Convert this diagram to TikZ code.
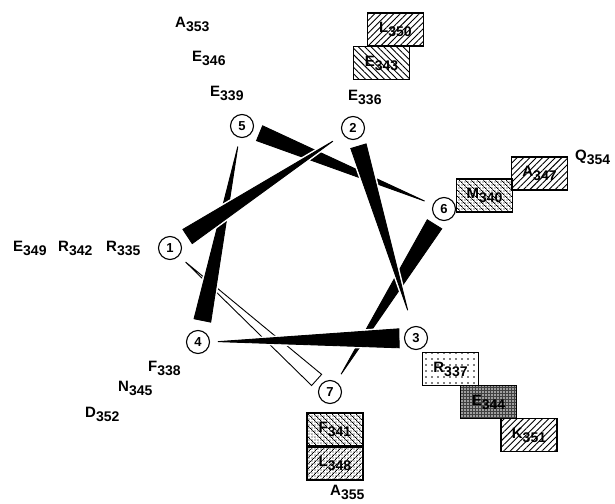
\documentclass[tikz,border=0pt]{standalone}
\usepackage{fontspec}
\setmainfont{Liberation Sans}
\usetikzlibrary{calc,positioning,patterns.meta}

\newcommand{\res}[2]{#1\raisebox{-4pt}{\fontsize{14}{14}\selectfont #2}}

\tikzset{
	lbl/.style={inner sep=0pt, anchor=base west, font=\bfseries\fontsize{15}{15}\selectfont},
	num/.style={circle, draw, fill=white, line width=1.1pt, minimum size=23pt, inner sep=0pt, font=\bfseries\fontsize{13}{13}\selectfont},
	resbox/.style={draw, line width=1.1pt, minimum width=56pt, minimum height=33pt, inner sep=0pt, font=\bfseries\fontsize{15}{15}\selectfont},
	hatchne/.style={pattern={Lines[angle=45,distance=4.5pt,line width=0.9pt]}},
	hatchnw/.style={pattern={Lines[angle=-45,distance=4.5pt,line width=0.9pt]}},
	sparsedots/.style={pattern={Dots[radius=0.9pt,distance=6pt]}},
	dotsne/.style={pattern={Lines[angle=45,distance=4pt,line width=0.8pt]}, postaction={pattern={Dots[radius=0.7pt,distance=3pt]}}},
	dotsnw/.style={pattern={Lines[angle=-45,distance=4pt,line width=0.8pt]}, postaction={pattern={Dots[radius=0.7pt,distance=3pt]}}},
	darkdots/.style={preaction={fill=black!75}, pattern={Dots[radius=0.8pt,distance=3pt]}, pattern color=white},
}

\begin{document}
\begin{tikzpicture}[x=1pt, y=-1pt]
	\useasboundingbox (0,0) rectangle (615,503);

	% wheel positions
	\node[num] (c1) at (170,248) {1};
	\node[num] (c2) at (353,128) {2};
	\node[num] (c3) at (416,338) {3};
	\node[num] (c4) at (198,342) {4};
	\node[num] (c5) at (242,126) {5};
	\node[num] (c6) at (444,209) {6};
	\node[num] (c7) at (330,392) {7};

	% wedges, last one on top
	\foreach \a/\b/\da/\db/\h/\col in {7/1/18/21/7.5/white, 6/7/18/21/8.5/black, 5/6/19/21/8/black, 4/5/22/21/8.5/black, 3/4/17/20/9.5/black, 2/3/19/29/8/black, 1/2/21/24/8.5/black}{
		\coordinate (s) at ($(c\a)!\da pt!(c\b)$);
		\coordinate (t) at ($(c\b)!\db pt!(c\a)$);
		\filldraw[white, line width=4pt, line join=round] ($(s)!\h pt!90:(t)$) -- ($(s)!\h pt!-90:(t)$) -- (t) -- cycle;
		\filldraw[fill=\col, draw=black, line width=0.9pt, line join=miter] ($(s)!\h pt!90:(t)$) -- ($(s)!\h pt!-90:(t)$) -- (t) -- cycle;
	}

	% residues as plain text
	\node[lbl] (r353) at (175,28) {\res{A}{353}};
	\node[lbl] (r346) at (192,62) {\res{E}{346}};
	\node[lbl] (r339) at (210,96) {\res{E}{339}};
	\node[lbl] (r349) at (13,251) {\res{E}{349}};
	\node[lbl] (r342) at (58,251) {\res{R}{342}};
	\node[lbl] (r335) at (106,251) {\res{R}{335}};
	\node[lbl] (r338) at (148,371) {\res{F}{338}};
	\node[lbl] (r345) at (118,391) {\res{N}{345}};
	\node[lbl] (r352) at (85,417) {\res{D}{352}};
	\node[lbl] (r336) at (348,100) {\res{E}{336}};
	\node[lbl] (r354) at (575,160) {\res{Q}{354}};
	\node[lbl] (r355) at (330,495) {\res{A}{355}};

	% residues in boxes
	\node[resbox, hatchne] (b350) at (395.5,29.5) {\res{L}{350}};
	\node[resbox, hatchnw] (b343) at (381.5,63) {\res{E}{343}};
	\node[resbox, dotsnw] (b340) at (484.5,195.5) {\res{M}{340}};
	\node[resbox, hatchne] (b347) at (539.5,173.5) {\res{A}{347}};
	\node[resbox, sparsedots] (b337) at (450.5,369) {\res{R}{337}};
	\node[resbox, darkdots] (b344) at (488.5,402) {\res{E}{344}};
	\node[resbox, hatchne] (b351) at (529,435) {\res{K}{351}};
	\node[resbox, dotsnw] (b341) at (335,429.5) {\res{F}{341}};
	\node[resbox, dotsne, below=0pt of b341] (b348) {\res{L}{348}};
\end{tikzpicture}
\end{document}
